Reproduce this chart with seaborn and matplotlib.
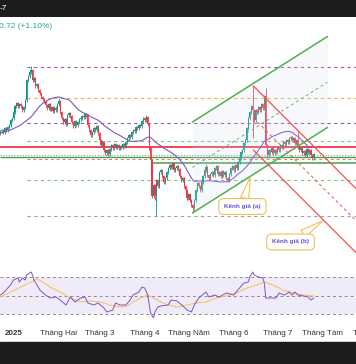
import numpy as np
import pandas as pd
import matplotlib
matplotlib.use("Agg")
import matplotlib.pyplot as plt
from matplotlib.patches import Rectangle
import seaborn as sns

# ---- data (daily candles, day 0 = 2024-12-23) ----
start = pd.Timestamp("2024-12-23")

closes = [
    0.766, 0.768, 0.764, 0.772, 0.768, 0.774, 0.778, 0.788, 0.792, 0.804,
    0.816, 0.822, 0.816, 0.820, 0.816, 0.808, 0.814, 0.828, 0.868, 0.876,
    0.884, 0.888, 0.868, 0.872, 0.856, 0.860, 0.848, 0.842, 0.834, 0.830,
    0.826, 0.818, 0.812, 0.820, 0.810, 0.814, 0.806, 0.812, 0.808, 0.820,
    0.826, 0.804, 0.792, 0.784, 0.790, 0.780, 0.798, 0.802, 0.796, 0.784,
    0.776, 0.786, 0.778, 0.784, 0.790, 0.792, 0.796, 0.794, 0.800, 0.798,
    0.778, 0.768, 0.758, 0.764, 0.772, 0.768, 0.776, 0.762, 0.748, 0.738,
    0.744, 0.728, 0.722, 0.728, 0.720, 0.730, 0.738, 0.732, 0.740, 0.734,
    0.738, 0.732, 0.736, 0.734, 0.740, 0.736, 0.744, 0.752, 0.758, 0.754,
    0.764, 0.768, 0.766, 0.774, 0.772, 0.778, 0.776, 0.786, 0.792, 0.788,
    0.794, 0.780, 0.732, 0.708, 0.636, 0.658, 0.638, 0.668, 0.656, 0.684,
    0.688, 0.676, 0.664, 0.672, 0.684, 0.692, 0.698, 0.694, 0.702, 0.688,
    0.692, 0.696, 0.690, 0.676, 0.668, 0.672, 0.656, 0.648, 0.632, 0.640,
    0.628, 0.618, 0.612, 0.628, 0.648, 0.662, 0.656, 0.648, 0.664, 0.676,
    0.688, 0.694, 0.678, 0.672, 0.680, 0.684, 0.678, 0.692, 0.696, 0.680,
    0.684, 0.676, 0.686, 0.678, 0.684, 0.672, 0.668, 0.680, 0.692, 0.696,
    0.688, 0.698, 0.692, 0.704, 0.712, 0.724, 0.728, 0.742, 0.748, 0.772,
    0.792, 0.804, 0.816, 0.808, 0.788, 0.808, 0.804, 0.814, 0.808, 0.820,
    0.812, 0.836, 0.738, 0.718, 0.728, 0.724, 0.732, 0.722, 0.728, 0.724,
    0.732, 0.728, 0.738, 0.734, 0.744, 0.740, 0.748, 0.744, 0.752, 0.754,
    0.748, 0.752, 0.742, 0.748, 0.734, 0.728, 0.732, 0.722, 0.726, 0.718,
    0.730, 0.724, 0.728, 0.718, 0.712, 0.720,
]
first_open = 0.762
high_marks = {21: 0.896, 40: 0.832, 100: 0.798, 141: 0.700, 173: 0.856,
              182: 0.852, 204: 0.766}
low_marks = {106: 0.628, 107: 0.596, 132: 0.602, 173: 0.752, 183: 0.712}

ma_head_days = [0, 7, 14, 21, 27]
ma_head_vals = [0.762, 0.768, 0.778, 0.794, 0.816]

# horizontal levels
level_prices = [0.894, 0.832, 0.782, 0.746, 0.734, 0.719, 0.714, 0.710, 0.702, 0.668, 0.596]
level_from_day = [18, 18, 18, 18, 0, 0, 0, 18, 104, 18, 18]

# channel (a) and (b): (day, price) anchors
chan_a_days = [131.7, 224.3]
chan_a_low = [0.602, 0.773]
chan_a_mid = [0.693, 0.8635]
chan_a_up = [0.784, 0.955]
chan_b_days = [173.5, 244.5]
chan_b_up = [0.856, 0.649]
chan_b_mid = [0.792, 0.585]
chan_b_low = [0.728, 0.521]

# RSI and its average
rsi_day = [0, 2, 5, 7, 9, 12, 13, 15, 17, 18, 21, 22, 23, 25, 27, 31, 34, 38, 41, 45,
           48, 51, 55, 58, 60, 64, 67, 71, 73, 77, 79, 82, 86, 89, 91, 95, 97, 99, 101, 103,
           105, 106, 108, 110, 115, 117, 121, 126, 128, 131, 133, 136, 141, 143, 147, 150, 155, 160, 164, 167,
           170, 171, 173, 174, 177, 180, 181, 182, 186, 189, 191, 195, 198, 200, 202, 204, 208, 211, 213, 215]
rsi_val = [50.5, 52.7, 58.1, 61.4, 66.8, 68.9, 64.6, 68.9, 66.8, 72.2, 75.4, 72.2, 66.8, 61.4, 55.9, 50.5, 47.3, 48.4, 45.1, 39.7,
           48.4, 43.0, 47.3, 48.4, 41.9, 39.7, 41.9, 36.5, 32.2, 34.3, 41.9, 39.7, 39.7, 45.1, 50.5, 53.8, 59.2, 58.1, 50.5, 31.1,
           25.7, 32.2, 37.6, 38.7, 39.7, 45.1, 44.1, 37.6, 34.3, 32.2, 39.7, 47.3, 53.8, 48.4, 50.5, 48.4, 52.7, 50.5, 58.1, 63.5,
           64.6, 70.0, 75.4, 72.2, 70.0, 68.9, 63.5, 47.3, 47.3, 47.3, 52.7, 50.5, 53.8, 50.5, 53.8, 50.5, 49.5, 48.4, 45.1, 47.3]
rsi_ma_day = [0, 7, 14, 21, 25, 29, 34, 41, 48, 55, 62, 69, 75, 82, 87, 91, 96, 101, 105, 110,
              115, 121, 128, 134, 141, 148, 155, 162, 169, 176, 181, 187, 194, 201, 208, 215]
rsi_ma_val = [48.4, 53.8, 59.2, 64.6, 67.8, 64.6, 59.2, 53.8, 47.3, 43.0, 44.1, 43.0, 39.7, 37.6, 38.7, 43.0, 47.3, 50.5, 47.3, 43.0,
              39.7, 37.6, 39.7, 41.9, 43.0, 47.3, 49.5, 52.7, 58.1, 61.4, 64.6, 61.4, 55.9, 52.7, 50.5, 49.5]

month_starts = ["2025-01-01", "2025-02-01", "2025-03-01", "2025-04-01", "2025-05-01",
                "2025-06-01", "2025-07-01", "2025-08-01", "2025-09-01"]
month_labels = ["2025", "Tháng Hai", "Tháng 3", "Tháng 4", "Tháng Năm",
                "Tháng 6", "Tháng 7", "Tháng Tám", "Tháng 9"]

# ---- prepare ----
df = pd.DataFrame({"close": closes})
df["day"] = np.arange(len(df))
df["open"] = [first_open] + closes[:-1]
df["high"] = df[["open", "close"]].max(axis=1) + 0.003
df["low"] = df[["open", "close"]].min(axis=1) - 0.003
for d, v in high_marks.items():
    df.loc[d, "high"] = v
for d, v in low_marks.items():
    df.loc[d, "low"] = v
df["up"] = df["close"] >= df["open"]

sma = df["close"].rolling(30).mean()
ma_df = pd.concat([
    pd.DataFrame({"day": ma_head_days, "ma": ma_head_vals}),
    pd.DataFrame({"day": df["day"][29:], "ma": sma[29:]}),
])

sns.set_theme(style="white")
plt.rcParams["font.family"] = ["Liberation Sans", "DejaVu Sans"]

H = 364
fig = plt.figure(figsize=(3.56, 3.64), dpi=100)
fig.patch.set_facecolor("white")
fig.add_artist(Rectangle((0, 1 - 16 / H), 1, 16 / H, transform=fig.transFigure,
                         color="#1d1d1f", zorder=0))
fig.add_artist(Rectangle((0, 0), 1, 22 / H, transform=fig.transFigure,
                         color="#1d1d1f", zorder=0))
fig.text(0.0, 1 - 8 / H, "-7", color="white", fontsize=6, va="center", ha="left")
fig.text(-0.004, 1 - 26 / H, "0.72 (+1.10%)", color="#26a69a", fontsize=6,
         va="center", ha="left")

xlim = (-0.3, 243.9)

# ---- main price pane ----
ax = fig.add_axes([0, 1 - 265 / H, 1, 248 / H])
ax.set_xlim(*xlim)
ax.set_ylim(0.498, 0.994)
for s in ax.spines.values():
    s.set_visible(False)
ax.set_xticks([])
ax.set_yticks([])

level_styles = [
    ("#a65aa6", (0, (3, 3)), 0.8), ("#eab04a", (0, (3, 3)), 0.8),
    ("#9457b5", (0, (3, 3)), 0.8), ("#7cc08a", (0, (3, 3)), 0.8),
    ("#f23645", "-", 1.3), ("#86a694", (0, (1, 1.5)), 0.8),
    ("#43a047", "-", 1.0), ("#e57373", (0, (3, 3)), 0.7),
    ("#43a047", "-", 1.1), ("#7cc08a", (0, (3, 3)), 0.8),
    ("#a0a0a0", (0, (3, 3)), 0.8),
]
for p, d0, (c, ls, lw) in zip(level_prices, level_from_day, level_styles):
    ax.hlines(p, d0, xlim[1], colors=c, linestyles=ls, lw=lw, zorder=2)

# candles
up_c, dn_c = "#089981", "#f23645"
colors = np.where(df["up"], up_c, dn_c)
ax.vlines(df["day"], df["low"], df["high"], colors=colors, lw=0.6, zorder=3)
body = (df["close"] - df["open"]).where(lambda s: s.abs() > 0.0015, 0.0015)
ax.bar(df["day"], body, bottom=df["open"], width=0.8, color=colors,
       linewidth=0, zorder=4)

sns.lineplot(data=ma_df, x="day", y="ma", ax=ax, color="#7e57c2", lw=0.8,
             estimator=None, sort=False, zorder=5)

# channel (a)
ax.fill_between(chan_a_days, chan_a_low, chan_a_up, color="#d6d9ee", alpha=0.18,
                lw=0, zorder=6)
ax.plot(chan_a_days, chan_a_low, color="#4caf50", lw=1.1, zorder=7)
ax.plot(chan_a_days, chan_a_up, color="#4caf50", lw=1.1, zorder=7)
ax.plot(chan_a_days, chan_a_mid, color="#66bb6a", lw=0.7, ls=(0, (3, 3)), zorder=7)

# channel (b)
ax.plot(chan_b_days, chan_b_up, color="#ef5350", lw=0.9, zorder=7)
ax.plot(chan_b_days, chan_b_low, color="#ef5350", lw=0.9, zorder=7)
ax.plot(chan_b_days, chan_b_mid, color="#ef5350", lw=0.7, ls=(0, (3, 3)), zorder=7)

box = dict(boxstyle="round,pad=0.85,rounding_size=0.8", fc="white", ec="#f0c05a", lw=0.8)
arrow = dict(arrowstyle="wedge,tail_width=1.3,shrink_factor=0.5", fc="white",
             ec="#f0c05a", lw=0.8, shrinkA=0, shrinkB=0)
ax.annotate("Kênh giá (a)", xy=(171.5, 0.674), xytext=(166, 0.615), ha="center",
            va="center", fontsize=4.6, fontweight="bold", color="#6b52c8",
            bbox=box, arrowprops=arrow, zorder=9)
ax.annotate("Kênh giá (b)", xy=(220.9, 0.586), xytext=(199, 0.544), ha="center",
            va="center", fontsize=4.6, fontweight="bold", color="#6b52c8",
            bbox=box, arrowprops=arrow, zorder=9)

# ---- RSI pane ----
rx = fig.add_axes([0, 1 - 322 / H, 1, 57 / H])
rx.set_xlim(*xlim)
rx.set_ylim(21.35, 83.0)
for s in rx.spines.values():
    s.set_visible(False)
rx.set_xticks([])
rx.set_yticks([])
rx.axhspan(30, 70, color="#efebf8", lw=0, zorder=0)
for lvl in (70, 50, 30):
    rx.axhline(lvl, color="#8c8c8c", lw=0.7, ls=(0, (3, 3)), zorder=1)
sns.lineplot(x=rsi_ma_day, y=rsi_ma_val, ax=rx, color="#f5c46b", lw=0.8,
             estimator=None, sort=False, zorder=2)
sns.lineplot(x=rsi_day, y=rsi_val, ax=rx, color="#7e57c2", lw=0.7,
             estimator=None, sort=False, zorder=3)
rx.set_xlabel("")
rx.set_ylabel("")
ax.set_xlabel("")
ax.set_ylabel("")

# month labels under the RSI pane (the last one runs off the right edge, as in the source)
for ds, lab in zip(month_starts, month_labels):
    d = (pd.Timestamp(ds) - start).days
    rx.text(d, -0.21, lab, transform=rx.get_xaxis_transform(), ha="center",
            va="center", fontsize=5.8, color="#333333", clip_on=False,
            fontweight="bold" if lab == "2025" else "normal")

fig.savefig("out.png", dpi=100, facecolor="white")
